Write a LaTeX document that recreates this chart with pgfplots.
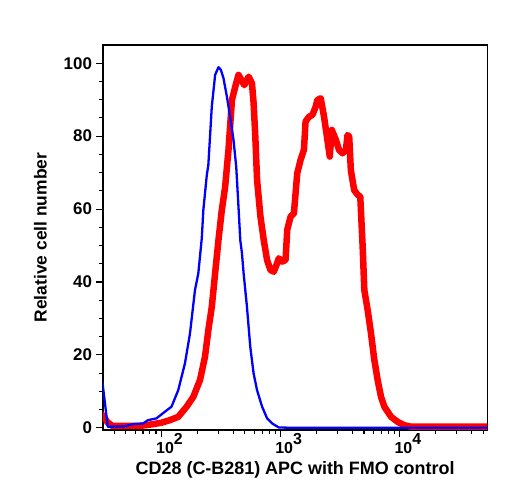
\documentclass[border=0pt]{standalone}
\usepackage{fontspec}
\setmainfont{Liberation Sans}
\usepackage{pgfplots}
\pgfplotsset{compat=1.18}
\usepackage{pgfplotstable}

% Histograms on a log10 intensity scale: column logI = log10(fluorescence)
\pgfplotstableread{
logI   count
1.502  13.1
1.549  0.3
1.690  0.4
1.760  1.0
1.845  1.2
1.887  2.1
1.958  2.6
2.028  4.4
2.084  5.8
2.140  10.3
2.197  17.7
2.239  25.9
2.281  37.8
2.309  42.4
2.338  52.0
2.351  59.7
2.380  69.3
2.393  72.1
2.422  88.1
2.450  96.8
2.478  98.9
2.498  98.2
2.520  95.9
2.549  90.8
2.576  85.3
2.604  79.0
2.627  71.6
2.646  60.6
2.661  51.5
2.675  47.9
2.689  42.4
2.717  33.2
2.745  22.2
2.773  14.9
2.802  10.3
2.844  5.8
2.886  2.6
2.928  1.2
2.984  0.1
3.100  0.0
4.760  0.0
}\fmo

\pgfplotstableread{
logI   count
1.507  3.5
1.547  1.5
1.589  0.5
1.662  0.5
1.817  0.5
1.929  1.0
2.000  1.4
2.070  2.1
2.140  3.0
2.211  5.8
2.267  8.5
2.323  13.1
2.365  19.5
2.393  26.8
2.422  33.2
2.450  42.4
2.478  51.5
2.506  59.7
2.534  66.1
2.562  76.2
2.591  89.9
2.619  93.6
2.646  96.8
2.695  94.0
2.731  96.3
2.759  94.5
2.773  89.0
2.787  80.0
2.802  68.0
2.830  58.0
2.858  51.5
2.886  46.0
2.914  43.3
2.942  42.8
2.970  45.1
2.984  46.5
3.013  45.6
3.041  46.0
3.055  54.3
3.083  57.9
3.111  58.8
3.139  69.8
3.167  73.5
3.195  76.2
3.209  84.0
3.237  85.3
3.266  85.8
3.294  88.1
3.308  89.9
3.336  90.4
3.364  85.3
3.392  79.0
3.412  74.4
3.429  81.7
3.463  79.0
3.490  76.2
3.519  75.3
3.547  76.2
3.561  80.3
3.575  79.9
3.589  70.6
3.617  65.2
3.646  63.9
3.668  63.4
3.688  49.7
3.702  37.8
3.730  32.3
3.758  25.9
3.786  18.6
3.814  13.1
3.842  8.5
3.870  5.8
3.927  3.0
3.983  1.6
4.039  0.7
4.095  0.3
4.760  0.3
}\stained

% decade labels: exponent in the same bold face and size as the base
\newcommand\decade[1]{\fontsize{16}{16}\selectfont\bfseries 10\raisebox{9.5bp}{#1}}

\begin{document}
\begin{tikzpicture}
\begin{axis}[
  scale only axis,
  width=384.3bp, height=385bp,
  xmin=1.509, xmax=4.734,
  ymin=-0.6, ymax=105,
  axis line style={line width=1.2bp},
  tick style={black, line width=1.1bp},
  tick align=outside,
  major tick length=6.5bp,
  minor tick length=3.5bp,
  xtick pos=bottom, ytick pos=left,
  xtick={2,3,4},
  xticklabels={\decade{2},\decade{3},\decade{4}},
  minor xtick={1.602,1.699,1.778,1.845,1.903,1.954,
               2.301,2.477,2.602,2.699,2.778,2.845,2.903,2.954,
               3.301,3.477,3.602,3.699,3.778,3.845,3.903,3.954,
               4.301,4.477,4.602,4.699},
  ytick={0,20,40,60,80,100},
  minor ytick={5,10,15,25,30,35,45,50,55,65,70,75,85,90,95},
  /pgf/number format/assume math mode=true,
  xticklabel style={anchor=base, inner sep=0pt, xshift=8bp, yshift=-17bp},
  yticklabel style={font=\fontsize{17}{17}\selectfont\bfseries, xshift=-1bp},
  xlabel={CD28 (C-B281) APC with FMO control},
  ylabel={Relative cell number},
  xlabel style={font=\fontsize{18}{18}\selectfont\bfseries, inner sep=0pt,
                at={(axis description cs:0.5,0)}, anchor=base, yshift=-44bp},
  ylabel style={font=\fontsize{17.5}{17.5}\selectfont\bfseries, yshift=10bp},
  clip=true,
]
\coordinate (ll) at (rel axis cs:0,0);
\coordinate (ur) at (rel axis cs:1,1);
\addplot[red, line width=6.5bp, line join=round, line cap=round] table[x=logI, y=count] {\stained};
\addplot[blue, line width=2.3bp, line join=round] table[x=logI, y=count] {\fmo};
\end{axis}
\pgfresetboundingbox
\path ([shift={(-103bp,-70bp)}]ll) rectangle ([shift={(20.7bp,45bp)}]ur);
\end{tikzpicture}
\end{document}
